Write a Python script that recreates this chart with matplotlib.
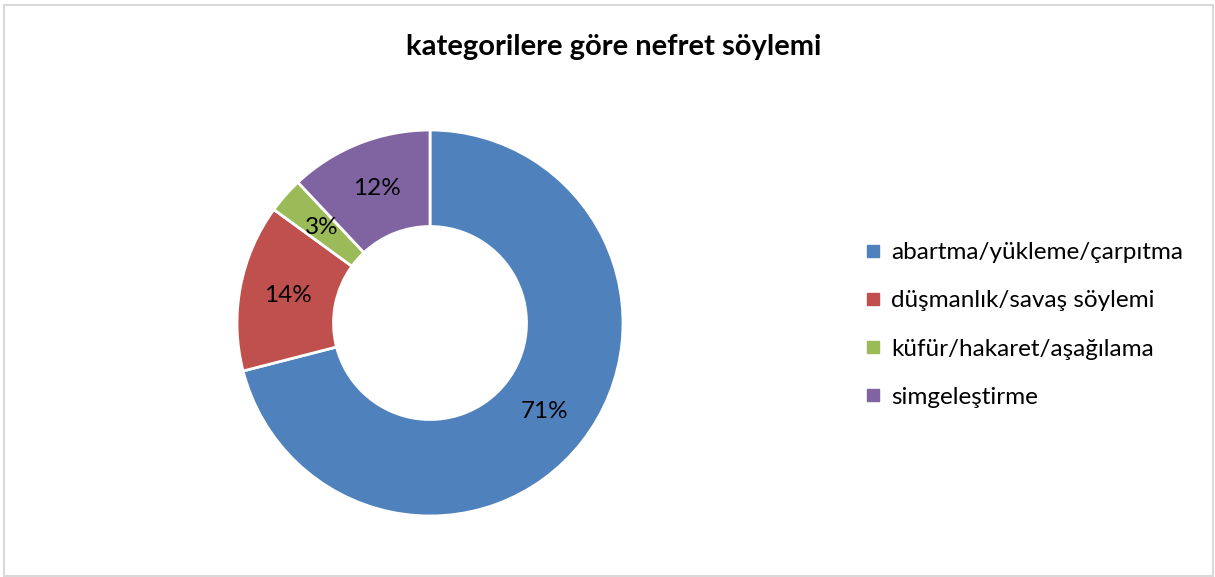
import matplotlib.pyplot as plt
from matplotlib.lines import Line2D
from matplotlib.patches import Rectangle

categories = ["abartma/yükleme/çarpıtma", "düşmanlık/savaş söylemi",
              "küfür/hakaret/aşağılama", "simgeleştirme"]
values = [71, 14, 3, 12]
colors = ["#4F81BD", "#C0504D", "#9BBB59", "#8064A2"]

plt.rcParams['font.family'] = ['Lato', 'DejaVu Sans']

W, H = 1215, 577
fig = plt.figure(figsize=(W / 100, H / 100), dpi=100)

# chart border
fig.patches.append(Rectangle((4 / W, 1 / H), 1209 / W, 571 / H, transform=fig.transFigure,
                             fill=False, edgecolor="#D9D9D9", linewidth=1.5))

cx, cy, r = 430, 323, 193
half = 205
ax = fig.add_axes([(cx - half) / W, (H - cy - half) / H, 2 * half / W, 2 * half / H])

wedges, texts, autotexts = ax.pie(
    values, colors=colors, startangle=90, counterclock=False,
    autopct="%d%%", pctdistance=0.75, radius=1,
    wedgeprops=dict(width=0.5, edgecolor="white", linewidth=2),
    textprops=dict(fontsize=17.5, color="black"))

lim = half / r
ax.set_xlim(-lim, lim)
ax.set_ylim(-lim, lim)
ax.set_aspect("equal")
ax.axis("off")

fig.text(614 / W, 1 - 47 / H, "kategorilere göre nefret söylemi",
         ha="center", va="center", fontsize=21, fontweight="bold")

handles = [Line2D([], [], marker="s", linestyle="none", markersize=9,
                  markerfacecolor=c, markeredgecolor=c) for c in colors]
fig.legend(handles, categories, loc="center left", bbox_to_anchor=(852 / W, 1 - 325 / H),
           frameon=False, fontsize=17.5, labelspacing=1.12, handletextpad=0.3,
           handlelength=0.9, borderaxespad=0)

fig.savefig("out.png", dpi=100, facecolor="white")
